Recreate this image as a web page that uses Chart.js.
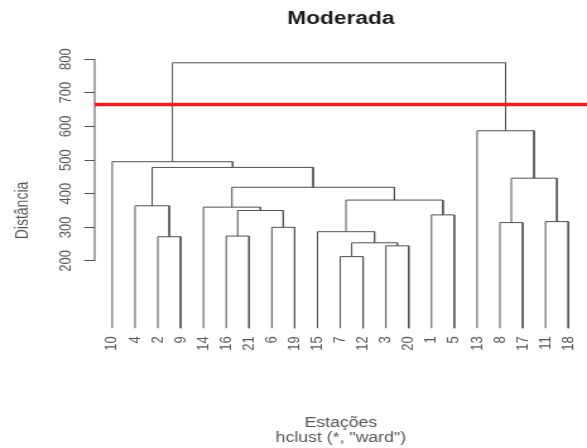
<!DOCTYPE html>
<html>
<head>
<meta charset="utf-8">
<script src="https://cdn.jsdelivr.net/npm/chart.js@4/dist/chart.umd.min.js"></script>
<style>
html, body { margin: 0; padding: 0; background: #fff; }
canvas { display: block; }
</style>
</head>
<body>
<!-- drawn at 465px wide and stretched to 587px, like the reference -->
<canvas id="c" width="465" height="448" style="width:587px;height:448px"></canvas>
<script>
// stations in the order they hang from the tree
const leafOrder = [10, 4, 2, 9, 14, 16, 21, 6, 19, 15, 7, 12, 3, 20, 1, 5, 13, 8, 17, 11, 18];

// merges, R style: negative = station number, positive = earlier merge (1-based)
const mergeLeft   = [-7, -3, 1, -15, -2, -16, -6, -8, -11, -1, 6, -14, -4, 4, 12, 8, 13, -10, -13, 18];
const mergeRight  = [-12, -20, 2, 3, -9, -21, -19, -17, -18, -5, 7, 11, 5, 10, 14, 9, 15, 17, 16, 19];
const mergeHeight = [213, 245, 254, 287, 272, 274, 300, 314, 317, 337, 350, 360, 364, 381, 419, 446, 478, 495, 587, 789];

const yTicks = [200, 300, 400, 500, 600, 700, 800];
const cutHeight = 665;   // red cut line
const leafBase = 0;      // leaves hang down to this height

const xMin = 0.23, xMax = 21.82;
const gray = '#505050';
const textGray = '#555';
const font = 'Liberation Sans, Arial, sans-serif';

// x position of each merge = midpoint of its two children
const mergeX = [];
function nodeX(id) { return id < 0 ? leafOrder.indexOf(-id) + 1 : mergeX[id - 1]; }
function nodeH(id) { return id < 0 ? leafBase : mergeHeight[id - 1]; }
for (let i = 0; i < mergeHeight.length; i++) {
  mergeX.push((nodeX(mergeLeft[i]) + nodeX(mergeRight[i])) / 2);
}

const datasets = [{
  label: 'corte',
  data: [{x: xMin, y: cutHeight}, {x: xMax, y: cutHeight}],
  borderColor: '#ee1c25',
  borderWidth: 3.5,
  showLine: true,
  pointRadius: 0
}];
for (let i = 0; i < mergeHeight.length; i++) {
  const a = mergeLeft[i], b = mergeRight[i], h = mergeHeight[i];
  datasets.push({
    label: 'm' + (i + 1),
    data: [
      {x: nodeX(a), y: nodeH(a)},
      {x: nodeX(a), y: h},
      {x: nodeX(b), y: h},
      {x: nodeX(b), y: nodeH(b)}
    ],
    borderColor: gray,
    borderWidth: 1,
    showLine: true,
    pointRadius: 0
  });
}

// R draws its y axis line only between the first and last tick
const axisLine = {
  id: 'axisLine',
  beforeDatasetsDraw(chart) {
    const ctx = chart.ctx, y = chart.scales.y, x0 = chart.chartArea.left;
    ctx.save();
    ctx.strokeStyle = gray;
    ctx.lineWidth = 1;
    ctx.beginPath();
    ctx.moveTo(x0, y.getPixelForValue(yTicks[0]));
    ctx.lineTo(x0, y.getPixelForValue(yTicks[yTicks.length - 1]));
    ctx.stroke();
    ctx.restore();
  }
};

new Chart(document.getElementById('c'), {
  type: 'scatter',
  data: { datasets },
  plugins: [axisLine],
  options: {
    responsive: false,
    devicePixelRatio: 1,
    animation: false,
    events: [],
    layout: { padding: 0 },
    elements: { line: { tension: 0, borderCapStyle: 'butt' } },
    plugins: {
      legend: { display: false },
      tooltip: { enabled: false },
      title: {
        display: true,
        text: 'Moderada',
        fullSize: false,
        color: '#1a1a1a',
        font: { family: font, size: 18, weight: 'bold', lineHeight: 1.2 },
        padding: { top: 8, bottom: 19.4 }
      },
      subtitle: {
        display: true,
        position: 'bottom',
        fullSize: false,
        text: ['Estações', 'hclust (*, "ward")'],
        color: textGray,
        font: { family: font, size: 14, lineHeight: 1.05 },
        padding: { top: 43.6, bottom: 3 }
      }
    },
    scales: {
      x: {
        type: 'linear',
        position: { y: leafBase },
        min: xMin,
        max: xMax,
        grid: { display: false, drawTicks: false },
        border: { display: false },
        afterBuildTicks: s => { s.ticks = leafOrder.map((_, i) => ({ value: i + 1 })); },
        afterFit: s => { s.paddingLeft = 0; s.paddingRight = 0; },
        ticks: {
          autoSkip: false,
          minRotation: 90,
          maxRotation: 90,
          padding: 8,
          color: textGray,
          font: { family: font, size: 13 },
          callback: (v, i) => String(leafOrder[i])
        }
      },
      y: {
        type: 'linear',
        position: 'left',
        min: -130,
        max: 830,
        grid: { drawOnChartArea: false, drawTicks: true, tickLength: 8, color: gray },
        border: { display: false },
        afterBuildTicks: s => { s.ticks = yTicks.map(v => ({ value: v })); },
        afterFit: s => { s.width = 75; },
        ticks: {
          minRotation: 90,
          maxRotation: 90,
          crossAlign: 'center',
          padding: 4,
          color: textGray,
          font: { family: font, size: 13 }
        },
        title: {
          display: true,
          text: 'Distância',
          color: textGray,
          font: { family: font, size: 14 },
          padding: { top: 10, bottom: 0 }
        }
      }
    }
  }
});
</script>
</body>
</html>
